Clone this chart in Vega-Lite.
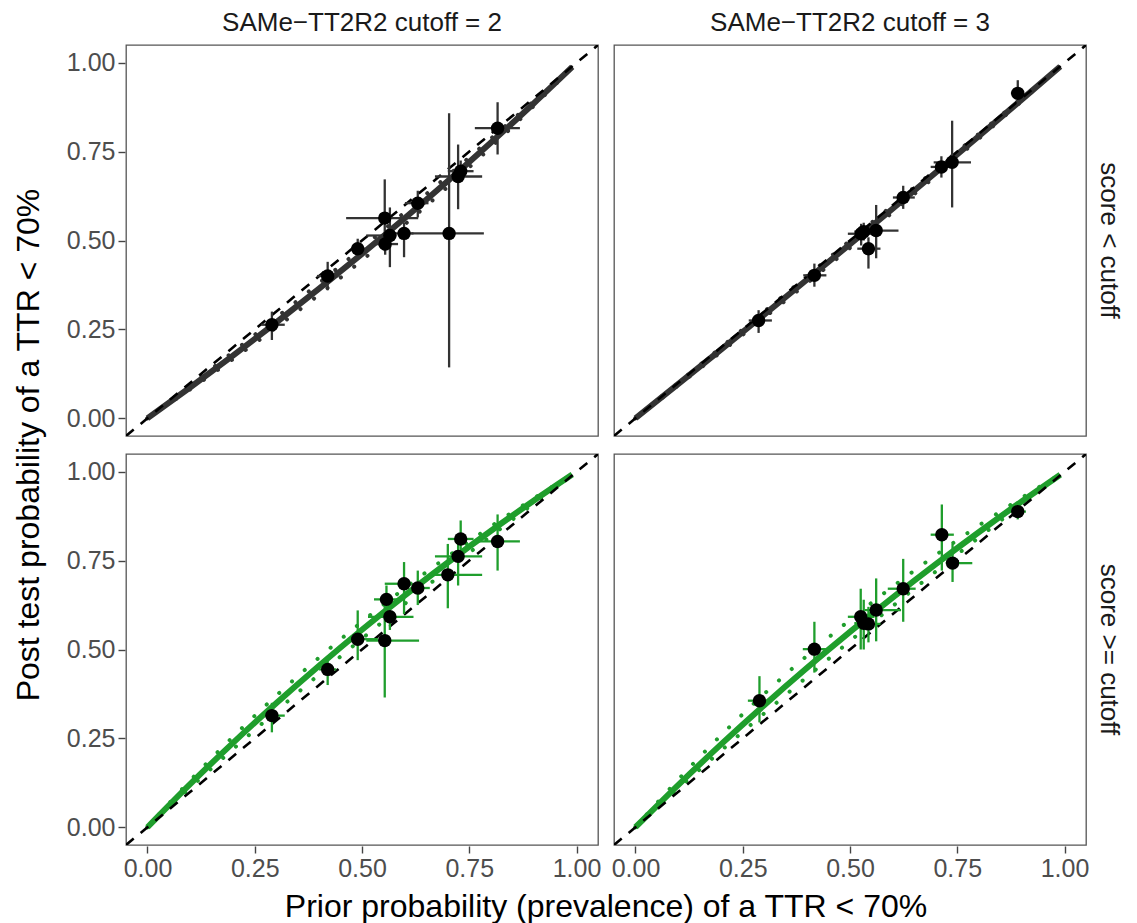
{
  "$schema": "https://vega.github.io/schema/vega-lite/v6.json",
  "padding": {"left": 12, "top": 10, "right": 4, "bottom": 2},
  "background": "white",
  "data": {"values": [
    {"c":"2","r":"lt","t":"diag","x":-0.05,"y":-0.05},{"c":"2","r":"lt","t":"diag","x":1.05,"y":1.05},
    {"c":"3","r":"lt","t":"diag","x":-0.05,"y":-0.05},{"c":"3","r":"lt","t":"diag","x":1.05,"y":1.05},
    {"c":"2","r":"ge","t":"diag","x":-0.05,"y":-0.05},{"c":"2","r":"ge","t":"diag","x":1.05,"y":1.05},
    {"c":"3","r":"ge","t":"diag","x":-0.05,"y":-0.05},{"c":"3","r":"ge","t":"diag","x":1.05,"y":1.05},

    {"c":"2","r":"lt","t":"fit","x":0,"y":0},{"c":"2","r":"lt","t":"fit","x":0.1,"y":0.0872},{"c":"2","r":"lt","t":"fit","x":0.2,"y":0.177},{"c":"2","r":"lt","t":"fit","x":0.3,"y":0.2693},{"c":"2","r":"lt","t":"fit","x":0.4,"y":0.3644},{"c":"2","r":"lt","t":"fit","x":0.5,"y":0.4624},{"c":"2","r":"lt","t":"fit","x":0.6,"y":0.5633},{"c":"2","r":"lt","t":"fit","x":0.7,"y":0.6674},{"c":"2","r":"lt","t":"fit","x":0.8,"y":0.7748},{"c":"2","r":"lt","t":"fit","x":0.9,"y":0.8856},{"c":"2","r":"lt","t":"fit","x":0.99,"y":0.9884},
    {"c":"2","r":"lt","t":"lo","x":0,"y":0},{"c":"2","r":"lt","t":"lo","x":0.1,"y":0.0816},{"c":"2","r":"lt","t":"lo","x":0.2,"y":0.1667},{"c":"2","r":"lt","t":"lo","x":0.3,"y":0.2553},{"c":"2","r":"lt","t":"lo","x":0.4,"y":0.3478},{"c":"2","r":"lt","t":"lo","x":0.5,"y":0.4444},{"c":"2","r":"lt","t":"lo","x":0.6,"y":0.5455},{"c":"2","r":"lt","t":"lo","x":0.7,"y":0.6512},{"c":"2","r":"lt","t":"lo","x":0.8,"y":0.7619},{"c":"2","r":"lt","t":"lo","x":0.9,"y":0.878},{"c":"2","r":"lt","t":"lo","x":0.99,"y":0.9875},
    {"c":"2","r":"lt","t":"hi","x":0,"y":0},{"c":"2","r":"lt","t":"hi","x":0.1,"y":0.0927},{"c":"2","r":"lt","t":"hi","x":0.2,"y":0.187},{"c":"2","r":"lt","t":"hi","x":0.3,"y":0.2828},{"c":"2","r":"lt","t":"hi","x":0.4,"y":0.3802},{"c":"2","r":"lt","t":"hi","x":0.5,"y":0.4792},{"c":"2","r":"lt","t":"hi","x":0.6,"y":0.5798},{"c":"2","r":"lt","t":"hi","x":0.7,"y":0.6822},{"c":"2","r":"lt","t":"hi","x":0.8,"y":0.7863},{"c":"2","r":"lt","t":"hi","x":0.9,"y":0.8922},{"c":"2","r":"lt","t":"hi","x":0.99,"y":0.9891},

    {"c":"3","r":"lt","t":"fit","x":0,"y":0},{"c":"3","r":"lt","t":"fit","x":0.1,"y":0.0964},{"c":"3","r":"lt","t":"fit","x":0.2,"y":0.1935},{"c":"3","r":"lt","t":"fit","x":0.3,"y":0.2915},{"c":"3","r":"lt","t":"fit","x":0.4,"y":0.3902},{"c":"3","r":"lt","t":"fit","x":0.5,"y":0.4898},{"c":"3","r":"lt","t":"fit","x":0.6,"y":0.5902},{"c":"3","r":"lt","t":"fit","x":0.7,"y":0.6914},{"c":"3","r":"lt","t":"fit","x":0.8,"y":0.7934},{"c":"3","r":"lt","t":"fit","x":0.9,"y":0.8963},{"c":"3","r":"lt","t":"fit","x":0.99,"y":0.9896},
    {"c":"3","r":"lt","t":"lo","x":0,"y":0},{"c":"3","r":"lt","t":"lo","x":0.1,"y":0.0927},{"c":"3","r":"lt","t":"lo","x":0.2,"y":0.187},{"c":"3","r":"lt","t":"lo","x":0.3,"y":0.2828},{"c":"3","r":"lt","t":"lo","x":0.4,"y":0.3802},{"c":"3","r":"lt","t":"lo","x":0.5,"y":0.4792},{"c":"3","r":"lt","t":"lo","x":0.6,"y":0.5798},{"c":"3","r":"lt","t":"lo","x":0.7,"y":0.6822},{"c":"3","r":"lt","t":"lo","x":0.8,"y":0.7863},{"c":"3","r":"lt","t":"lo","x":0.9,"y":0.8922},{"c":"3","r":"lt","t":"lo","x":0.99,"y":0.9891},
    {"c":"3","r":"lt","t":"hi","x":0,"y":0},{"c":"3","r":"lt","t":"hi","x":0.1,"y":0.1},{"c":"3","r":"lt","t":"hi","x":0.2,"y":0.2},{"c":"3","r":"lt","t":"hi","x":0.3,"y":0.3},{"c":"3","r":"lt","t":"hi","x":0.4,"y":0.4},{"c":"3","r":"lt","t":"hi","x":0.5,"y":0.5},{"c":"3","r":"lt","t":"hi","x":0.6,"y":0.6},{"c":"3","r":"lt","t":"hi","x":0.7,"y":0.7},{"c":"3","r":"lt","t":"hi","x":0.8,"y":0.8},{"c":"3","r":"lt","t":"hi","x":0.9,"y":0.9},{"c":"3","r":"lt","t":"hi","x":0.99,"y":0.99},

    {"c":"2","r":"ge","t":"fit","x":0,"y":0},{"c":"2","r":"ge","t":"fit","x":0.1,"y":0.122},{"c":"2","r":"ge","t":"fit","x":0.2,"y":0.2381},{"c":"2","r":"ge","t":"fit","x":0.3,"y":0.3488},{"c":"2","r":"ge","t":"fit","x":0.4,"y":0.4545},{"c":"2","r":"ge","t":"fit","x":0.5,"y":0.5556},{"c":"2","r":"ge","t":"fit","x":0.6,"y":0.6522},{"c":"2","r":"ge","t":"fit","x":0.7,"y":0.7447},{"c":"2","r":"ge","t":"fit","x":0.8,"y":0.8333},{"c":"2","r":"ge","t":"fit","x":0.9,"y":0.9184},{"c":"2","r":"ge","t":"fit","x":0.99,"y":0.992},
    {"c":"2","r":"ge","t":"lo","x":0,"y":0},{"c":"2","r":"ge","t":"lo","x":0.1,"y":0.1115},{"c":"2","r":"ge","t":"lo","x":0.2,"y":0.2203},{"c":"2","r":"ge","t":"lo","x":0.3,"y":0.3263},{"c":"2","r":"ge","t":"lo","x":0.4,"y":0.4297},{"c":"2","r":"ge","t":"lo","x":0.5,"y":0.5305},{"c":"2","r":"ge","t":"lo","x":0.6,"y":0.6289},{"c":"2","r":"ge","t":"lo","x":0.7,"y":0.725},{"c":"2","r":"ge","t":"lo","x":0.8,"y":0.8188},{"c":"2","r":"ge","t":"lo","x":0.9,"y":0.9105},{"c":"2","r":"ge","t":"lo","x":0.99,"y":0.9911},
    {"c":"2","r":"ge","t":"hi","x":0,"y":0},{"c":"2","r":"ge","t":"hi","x":0.1,"y":0.1321},{"c":"2","r":"ge","t":"hi","x":0.2,"y":0.2551},{"c":"2","r":"ge","t":"hi","x":0.3,"y":0.3699},{"c":"2","r":"ge","t":"hi","x":0.4,"y":0.4774},{"c":"2","r":"ge","t":"hi","x":0.5,"y":0.5781},{"c":"2","r":"ge","t":"hi","x":0.6,"y":0.6727},{"c":"2","r":"ge","t":"hi","x":0.7,"y":0.7617},{"c":"2","r":"ge","t":"hi","x":0.8,"y":0.8457},{"c":"2","r":"ge","t":"hi","x":0.9,"y":0.925},{"c":"2","r":"ge","t":"hi","x":0.99,"y":0.9927},

    {"c":"3","r":"ge","t":"fit","x":0,"y":0},{"c":"3","r":"ge","t":"fit","x":0.1,"y":0.1194},{"c":"3","r":"ge","t":"fit","x":0.2,"y":0.2337},{"c":"3","r":"ge","t":"fit","x":0.3,"y":0.3433},{"c":"3","r":"ge","t":"fit","x":0.4,"y":0.4485},{"c":"3","r":"ge","t":"fit","x":0.5,"y":0.5495},{"c":"3","r":"ge","t":"fit","x":0.6,"y":0.6466},{"c":"3","r":"ge","t":"fit","x":0.7,"y":0.74},{"c":"3","r":"ge","t":"fit","x":0.8,"y":0.8299},{"c":"3","r":"ge","t":"fit","x":0.9,"y":0.9165},{"c":"3","r":"ge","t":"fit","x":0.99,"y":0.9918},
    {"c":"3","r":"ge","t":"lo","x":0,"y":0},{"c":"3","r":"ge","t":"lo","x":0.1,"y":0.1089},{"c":"3","r":"ge","t":"lo","x":0.2,"y":0.2157},{"c":"3","r":"ge","t":"lo","x":0.3,"y":0.3204},{"c":"3","r":"ge","t":"lo","x":0.4,"y":0.4231},{"c":"3","r":"ge","t":"lo","x":0.5,"y":0.5238},{"c":"3","r":"ge","t":"lo","x":0.6,"y":0.6226},{"c":"3","r":"ge","t":"lo","x":0.7,"y":0.7196},{"c":"3","r":"ge","t":"lo","x":0.8,"y":0.8148},{"c":"3","r":"ge","t":"lo","x":0.9,"y":0.9083},{"c":"3","r":"ge","t":"lo","x":0.99,"y":0.9909},
    {"c":"3","r":"ge","t":"hi","x":0,"y":0},{"c":"3","r":"ge","t":"hi","x":0.1,"y":0.1346},{"c":"3","r":"ge","t":"hi","x":0.2,"y":0.2593},{"c":"3","r":"ge","t":"hi","x":0.3,"y":0.375},{"c":"3","r":"ge","t":"hi","x":0.4,"y":0.4828},{"c":"3","r":"ge","t":"hi","x":0.5,"y":0.5833},{"c":"3","r":"ge","t":"hi","x":0.6,"y":0.6774},{"c":"3","r":"ge","t":"hi","x":0.7,"y":0.7656},{"c":"3","r":"ge","t":"hi","x":0.8,"y":0.8485},{"c":"3","r":"ge","t":"hi","x":0.9,"y":0.9265},{"c":"3","r":"ge","t":"hi","x":0.99,"y":0.9928},

    {"c":"2","r":"lt","t":"pt","x":0.29,"y":0.263,"x1":0.265,"x2":0.32,"y1":0.22,"y2":0.30},
    {"c":"2","r":"lt","t":"pt","x":0.42,"y":0.40,"x1":0.395,"x2":0.445,"y1":0.36,"y2":0.44},
    {"c":"2","r":"lt","t":"pt","x":0.49,"y":0.477,"x1":0.475,"x2":0.507,"y1":0.45,"y2":0.505},
    {"c":"2","r":"lt","t":"pt","x":0.553,"y":0.563,"x1":0.463,"x2":0.631,"y1":0.47,"y2":0.672},
    {"c":"2","r":"lt","t":"pt","x":0.554,"y":0.49,"x1":0.53,"x2":0.584,"y1":0.46,"y2":0.53},
    {"c":"2","r":"lt","t":"pt","x":0.565,"y":0.514,"x1":0.51,"x2":0.58,"y1":0.425,"y2":0.593},
    {"c":"2","r":"lt","t":"pt","x":0.598,"y":0.52,"x1":0.57,"x2":0.62,"y1":0.453,"y2":0.551},
    {"c":"2","r":"lt","t":"pt","x":0.63,"y":0.605,"x1":0.60,"x2":0.655,"y1":0.565,"y2":0.64},
    {"c":"2","r":"lt","t":"pt","x":0.703,"y":0.52,"x1":0.615,"x2":0.784,"y1":0.143,"y2":0.858},
    {"c":"2","r":"lt","t":"pt","x":0.724,"y":0.68,"x1":0.67,"x2":0.78,"y1":0.588,"y2":0.77},
    {"c":"2","r":"lt","t":"pt","x":0.73,"y":0.695,"x1":0.70,"x2":0.76,"y1":0.665,"y2":0.725},
    {"c":"2","r":"lt","t":"pt","x":0.816,"y":0.816,"x1":0.763,"x2":0.868,"y1":0.742,"y2":0.889},

    {"c":"2","r":"ge","t":"pt","x":0.29,"y":0.314,"x1":0.276,"x2":0.32,"y1":0.267,"y2":0.35},
    {"c":"2","r":"ge","t":"pt","x":0.42,"y":0.444,"x1":0.40,"x2":0.44,"y1":0.40,"y2":0.47},
    {"c":"2","r":"ge","t":"pt","x":0.49,"y":0.529,"x1":0.467,"x2":0.537,"y1":0.47,"y2":0.61},
    {"c":"2","r":"ge","t":"pt","x":0.553,"y":0.525,"x1":0.51,"x2":0.633,"y1":0.365,"y2":0.63},
    {"c":"2","r":"ge","t":"pt","x":0.557,"y":0.641,"x1":0.528,"x2":0.59,"y1":0.60,"y2":0.68},
    {"c":"2","r":"ge","t":"pt","x":0.565,"y":0.592,"x1":0.514,"x2":0.62,"y1":0.555,"y2":0.63},
    {"c":"2","r":"ge","t":"pt","x":0.598,"y":0.685,"x1":0.553,"x2":0.607,"y1":0.60,"y2":0.746},
    {"c":"2","r":"ge","t":"pt","x":0.63,"y":0.673,"x1":0.615,"x2":0.658,"y1":0.625,"y2":0.722},
    {"c":"2","r":"ge","t":"pt","x":0.70,"y":0.71,"x1":0.67,"x2":0.78,"y1":0.616,"y2":0.797},
    {"c":"2","r":"ge","t":"pt","x":0.724,"y":0.762,"x1":0.67,"x2":0.78,"y1":0.68,"y2":0.797},
    {"c":"2","r":"ge","t":"pt","x":0.73,"y":0.811,"x1":0.70,"x2":0.76,"y1":0.769,"y2":0.863},
    {"c":"2","r":"ge","t":"pt","x":0.816,"y":0.804,"x1":0.763,"x2":0.868,"y1":0.722,"y2":0.88},

    {"c":"3","r":"lt","t":"pt","x":0.287,"y":0.275,"x1":0.264,"x2":0.318,"y1":0.24,"y2":0.304},
    {"c":"3","r":"lt","t":"pt","x":0.417,"y":0.402,"x1":0.391,"x2":0.445,"y1":0.37,"y2":0.435},
    {"c":"3","r":"lt","t":"pt","x":0.526,"y":0.519,"x1":0.495,"x2":0.553,"y1":0.486,"y2":0.547},
    {"c":"3","r":"lt","t":"pt","x":0.532,"y":0.525,"x1":0.51,"x2":0.555,"y1":0.50,"y2":0.55},
    {"c":"3","r":"lt","t":"pt","x":0.543,"y":0.477,"x1":0.517,"x2":0.571,"y1":0.421,"y2":0.509},
    {"c":"3","r":"lt","t":"pt","x":0.561,"y":0.528,"x1":0.53,"x2":0.613,"y1":0.45,"y2":0.60},
    {"c":"3","r":"lt","t":"pt","x":0.624,"y":0.621,"x1":0.60,"x2":0.651,"y1":0.589,"y2":0.654},
    {"c":"3","r":"lt","t":"pt","x":0.713,"y":0.707,"x1":0.688,"x2":0.742,"y1":0.677,"y2":0.737},
    {"c":"3","r":"lt","t":"pt","x":0.738,"y":0.72,"x1":0.695,"x2":0.782,"y1":0.593,"y2":0.837},
    {"c":"3","r":"lt","t":"pt","x":0.891,"y":0.914,"x1":0.875,"x2":0.905,"y1":0.882,"y2":0.951},

    {"c":"3","r":"ge","t":"pt","x":0.289,"y":0.356,"x1":0.262,"x2":0.318,"y1":0.295,"y2":0.425},
    {"c":"3","r":"ge","t":"pt","x":0.417,"y":0.501,"x1":0.39,"x2":0.445,"y1":0.435,"y2":0.578},
    {"c":"3","r":"ge","t":"pt","x":0.525,"y":0.592,"x1":0.495,"x2":0.557,"y1":0.50,"y2":0.671},
    {"c":"3","r":"ge","t":"pt","x":0.532,"y":0.574,"x1":0.51,"x2":0.555,"y1":0.50,"y2":0.64},
    {"c":"3","r":"ge","t":"pt","x":0.543,"y":0.572,"x1":0.517,"x2":0.571,"y1":0.52,"y2":0.62},
    {"c":"3","r":"ge","t":"pt","x":0.561,"y":0.611,"x1":0.534,"x2":0.619,"y1":0.523,"y2":0.70},
    {"c":"3","r":"ge","t":"pt","x":0.624,"y":0.671,"x1":0.588,"x2":0.653,"y1":0.578,"y2":0.755},
    {"c":"3","r":"ge","t":"pt","x":0.714,"y":0.823,"x1":0.688,"x2":0.742,"y1":0.722,"y2":0.908},
    {"c":"3","r":"ge","t":"pt","x":0.739,"y":0.743,"x1":0.723,"x2":0.785,"y1":0.69,"y2":0.797},
    {"c":"3","r":"ge","t":"pt","x":0.891,"y":0.888,"x1":0.875,"x2":0.91,"y1":0.866,"y2":0.903}
  ]},
  "facet": {
    "column": {"field": "c", "type": "nominal", "sort": ["2", "3"],
      "title": "Prior probability (prevalence) of a TTR < 70%",
      "header": {"labelExpr": "'SAMe−TT2R2 cutoff = ' + datum.value", "labelFontSize": 26, "labelColor": "#1A1A1A", "labelPadding": 8,
        "titleOrient": "bottom", "titleFontSize": 32, "titleFontWeight": "normal", "titleColor": "black", "titlePadding": 1}},
    "row": {"field": "r", "type": "nominal", "sort": ["lt", "ge"],
      "title": "Post test probability of a TTR < 70%",
      "header": {"labelExpr": "datum.value == 'lt' ? 'score < cutoff' : 'score >= cutoff'", "labelOrient": "right", "labelAngle": 90, "labelFontSize": 26, "labelColor": "#1A1A1A", "labelPadding": 9,
        "titleOrient": "left", "titleFontSize": 32, "titleFontWeight": "normal", "titleColor": "black", "titlePadding": 10}}
  },
  "spacing": {"row": 16, "column": 14},
  "spec": {
    "width": 472,
    "height": 391,
    "layer": [
      {
        "transform": [{"filter": "datum.t == 'fit'"}],
        "mark": {"type": "line", "strokeWidth": 6, "interpolate": "monotone", "clip": true},
        "encoding": {
          "x": {"field": "x", "type": "quantitative", "title": null, "axis": {"values": [0, 0.25, 0.5, 0.75, 1]}, "scale": {"domain": [-0.05, 1.05], "nice": false, "zero": false}},
          "y": {"field": "y", "type": "quantitative", "title": null, "axis": {"values": [0, 0.25, 0.5, 0.75, 1]}, "scale": {"domain": [-0.05, 1.05], "nice": false, "zero": false}},
          "color": {"field": "r", "type": "nominal", "scale": {"domain": ["lt", "ge"], "range": ["#333333", "#1f9e2c"]}, "legend": null}
        }
      },
      {
        "transform": [{"filter": "datum.t == 'lo' || datum.t == 'hi'"}],
        "mark": {"type": "line", "strokeWidth": 4, "strokeDash": [0.1, 17], "strokeCap": "round", "interpolate": "monotone", "clip": true},
        "encoding": {
          "x": {"field": "x", "type": "quantitative", "title": null, "axis": {"values": [0, 0.25, 0.5, 0.75, 1]}, "scale": {"domain": [-0.05, 1.05], "nice": false, "zero": false}},
          "y": {"field": "y", "type": "quantitative", "title": null, "axis": {"values": [0, 0.25, 0.5, 0.75, 1]}, "scale": {"domain": [-0.05, 1.05], "nice": false, "zero": false}},
          "detail": {"field": "t"},
          "color": {"field": "r", "type": "nominal", "scale": {"domain": ["lt", "ge"], "range": ["#333333", "#1f9e2c"]}, "legend": null}
        }
      },
      {
        "transform": [{"filter": "datum.t == 'diag'"}],
        "mark": {"type": "line", "strokeWidth": 2.6, "strokeDash": [10, 9], "color": "black", "clip": true},
        "encoding": {
          "x": {"field": "x", "type": "quantitative", "title": null, "axis": {"values": [0, 0.25, 0.5, 0.75, 1]}, "scale": {"domain": [-0.05, 1.05], "nice": false, "zero": false}},
          "y": {"field": "y", "type": "quantitative", "title": null, "axis": {"values": [0, 0.25, 0.5, 0.75, 1]}, "scale": {"domain": [-0.05, 1.05], "nice": false, "zero": false}}
        }
      },
      {
        "transform": [{"filter": "datum.t == 'pt'"}],
        "mark": {"type": "rule", "strokeWidth": 2.3},
        "encoding": {
          "x": {"field": "x1", "type": "quantitative", "title": null, "axis": {"values": [0, 0.25, 0.5, 0.75, 1]}, "scale": {"domain": [-0.05, 1.05], "nice": false, "zero": false}},
          "x2": {"field": "x2"},
          "y": {"field": "y", "type": "quantitative", "title": null, "axis": {"values": [0, 0.25, 0.5, 0.75, 1]}, "scale": {"domain": [-0.05, 1.05], "nice": false, "zero": false}},
          "color": {"field": "r", "type": "nominal", "scale": {"domain": ["lt", "ge"], "range": ["#333333", "#1f9e2c"]}, "legend": null}
        }
      },
      {
        "transform": [{"filter": "datum.t == 'pt'"}],
        "mark": {"type": "rule", "strokeWidth": 2.3},
        "encoding": {
          "x": {"field": "x", "type": "quantitative", "title": null, "axis": {"values": [0, 0.25, 0.5, 0.75, 1]}, "scale": {"domain": [-0.05, 1.05], "nice": false, "zero": false}},
          "y": {"field": "y1", "type": "quantitative", "title": null, "axis": {"values": [0, 0.25, 0.5, 0.75, 1]}, "scale": {"domain": [-0.05, 1.05], "nice": false, "zero": false}},
          "y2": {"field": "y2"},
          "color": {"field": "r", "type": "nominal", "scale": {"domain": ["lt", "ge"], "range": ["#333333", "#1f9e2c"]}, "legend": null}
        }
      },
      {
        "transform": [{"filter": "datum.t == 'pt'"}],
        "mark": {"type": "circle", "size": 180, "color": "black", "opacity": 1},
        "encoding": {
          "x": {"field": "x", "type": "quantitative", "title": null, "axis": {"values": [0, 0.25, 0.5, 0.75, 1]}, "scale": {"domain": [-0.05, 1.05], "nice": false, "zero": false}},
          "y": {"field": "y", "type": "quantitative", "title": null, "axis": {"values": [0, 0.25, 0.5, 0.75, 1]}, "scale": {"domain": [-0.05, 1.05], "nice": false, "zero": false}}
        }
      }
    ]
  },
  "config": {
    "font": "Liberation Sans",
    "view": {"stroke": "#555555", "strokeWidth": 1.3},
    "axis": {
      "format": ".2f",
      "grid": false,
      "domain": false,
      "tickColor": "#444444",
      "tickSize": 7,
      "tickWidth": 1.4,
      "labelFontSize": 25,
      "labelColor": "#4D4D4D",
      "labelPadding": 3,
      "labelOverlap": false,
      "labelFlush": false
    }
  }
}
